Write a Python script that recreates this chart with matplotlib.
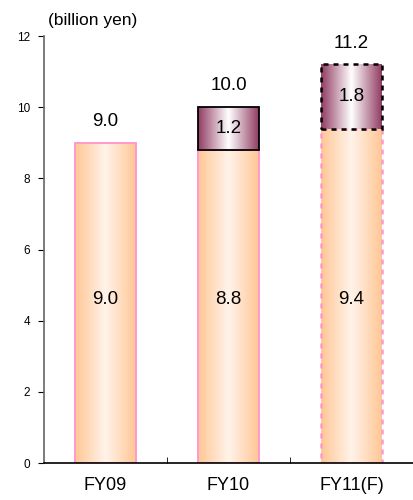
import matplotlib.pyplot as plt
import numpy as np
from matplotlib.colors import LinearSegmentedColormap

categories = ["FY09", "FY10", "FY11(F)"]
base_values = [9.0, 8.8, 9.4]
extra_values = [0.0, 1.2, 1.8]
totals = [9.0, 10.0, 11.2]

plt.rcParams["font.family"] = ["Liberation Sans", "DejaVu Sans"]

orange = LinearSegmentedColormap.from_list(
    "orange", [(0, "#FFC794"), (0.25, "#FFDDC0"), (0.5, "#FFF3EA"), (0.75, "#FFDDC0"), (1, "#FFC794")])
purple = LinearSegmentedColormap.from_list(
    "purple", [(0, "#913C62"), (0.5, "#FFFFFF"), (1, "#913C62")])
grad = np.linspace(0, 1, 256).reshape(1, -1)


def fill_gradient(ax, bars, cmap):
    for b in bars:
        if b.get_height() <= 0:
            continue
        x0, y0 = b.get_x(), b.get_y()
        im = ax.imshow(grad, cmap=cmap, aspect="auto", interpolation="bicubic",
                       extent=(x0, x0 + b.get_width(), y0, y0 + b.get_height()),
                       zorder=1)
        im.set_clip_path(b)


fig = plt.figure(figsize=(4.13, 5.0), dpi=100)
ax = fig.add_axes([44 / 413, 37 / 500, 369 / 413, 427 / 500])

x = np.arange(len(categories))
w = 0.49
base = ax.bar(x, base_values, width=w, facecolor="none", edgecolor="#FF99CC", linewidth=1.4, zorder=2)
top = ax.bar(x, extra_values, width=w, bottom=base_values, facecolor="none",
             edgecolor="black", linewidth=1.3, zorder=3)
fill_gradient(ax, base, orange)
fill_gradient(ax, top, purple)

base[2].set_linestyle((0, (2, 2)))
base[2].set_linewidth(1.8)
top[2].set_linestyle((0, (2, 2)))
top[2].set_linewidth(1.8)
top[0].set_visible(False)

for i in range(len(categories)):
    ax.text(x[i], 4.6, f"{base_values[i]:.1f}", ha="center", va="center", fontsize=13.5, zorder=5)
    if extra_values[i] > 0:
        ax.text(x[i], base_values[i] + extra_values[i] / 2, f"{extra_values[i]:.1f}",
                ha="center", va="center", fontsize=13.5, zorder=5)
    ax.text(x[i], totals[i] + 0.6, f"{totals[i]:.1f}", ha="center", va="center", fontsize=13.5)

ax.set_xlim(-0.5, 2.5)
ax.set_ylim(0, 12)
ax.set_yticks(range(0, 13, 2))
ax.set_xticks(x)
ax.set_xticklabels(categories, fontsize=13)
ax.tick_params(axis="x", length=0, pad=10)
ax.set_xticks([0.5, 1.5], minor=True)
ax.tick_params(axis="x", which="minor", length=4, direction="in")
ax.tick_params(axis="y", labelsize=8.5, length=4, direction="out", pad=6)
for s in ["top", "right"]:
    ax.spines[s].set_visible(False)
ax.spines["left"].set_color("#666666")
ax.spines["left"].set_linewidth(1.2)
ax.spines["bottom"].set_linewidth(1.2)
fig.text(48 / 413, 1 - 21 / 500, "(billion yen)", fontsize=12.5, va="center", ha="left")

fig.savefig("out.png", dpi=100)
